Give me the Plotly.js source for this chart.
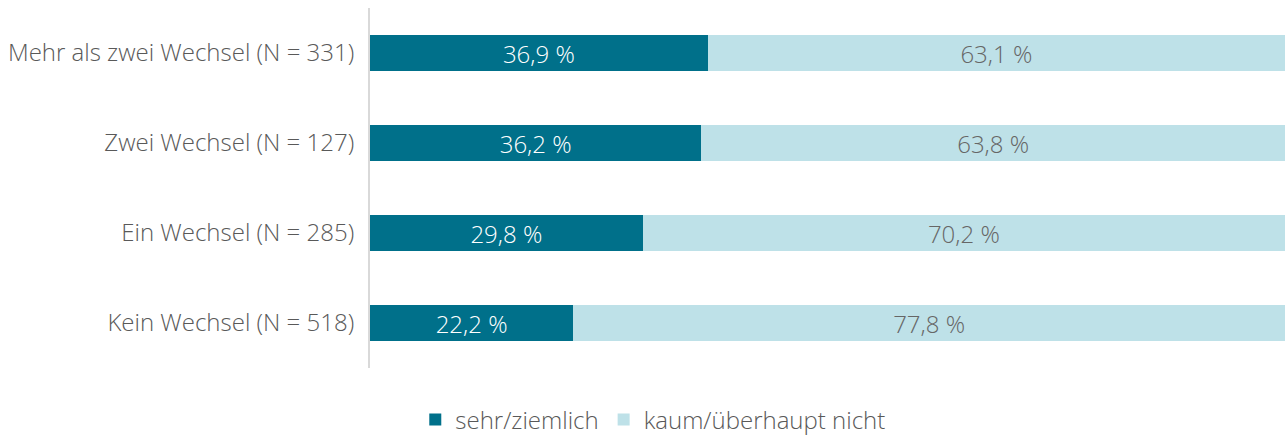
<!DOCTYPE html>
<html><head><meta charset="utf-8">
<script src="https://cdn.plot.ly/plotly-3.0.1.min.js"></script>
<style>html,body{margin:0;padding:0;background:#fff}#chart{width:1285px;height:436px}</style>
</head><body><div id="chart"></div>
<script>
const categories = ["Mehr als zwei Wechsel (N = 331)", "Zwei Wechsel (N = 127)", "Ein Wechsel (N = 285)", "Kein Wechsel (N = 518)"];
const sehrZiemlich = [36.9, 36.2, 29.8, 22.2];
const kaumNicht = [63.1, 63.8, 70.2, 77.8];
const seriesNames = ["sehr/ziemlich", "kaum/überhaupt nicht"];

const fmt = v => v.toFixed(1).replace('.', ',') + ' %';
const FONT = "Open Sans, sans-serif";
const FS = 24;
const W = 300;

const traces = [
  {type:'bar', orientation:'h', name:seriesNames[0], y:categories, x:sehrZiemlich,
   marker:{color:'#00708A'}, text:sehrZiemlich.map(fmt), textposition:'inside', insidetextanchor:'middle',
   constraintext:'none', textangle:0,
   textfont:{color:'#ffffff', size:FS, family:FONT, weight:W}, hoverinfo:'none'},
  {type:'bar', orientation:'h', name:seriesNames[1], y:categories, x:kaumNicht,
   marker:{color:'#BEE1E8'}, text:kaumNicht.map(fmt), textposition:'inside', insidetextanchor:'middle',
   constraintext:'none', textangle:0,
   textfont:{color:'#666666', size:FS, family:FONT, weight:W}, hoverinfo:'none'}
];

const layout = {
  width:1285, height:436, barmode:'stack', bargap:0.6,
  margin:{l:370, r:0, t:8, b:68},
  paper_bgcolor:'#fff', plot_bgcolor:'#fff',
  font:{family:FONT, color:'#595959', size:FS, weight:W},
  xaxis:{range:[0,100], visible:false, fixedrange:true},
  yaxis:{autorange:'reversed', showline:true, linecolor:'#d9d9d9', linewidth:2, ticks:'', ticklabelstandoff:9,
         tickfont:{size:FS, color:'#595959', family:FONT, weight:W}, showgrid:false, zeroline:false},
  showlegend:true,
  legend:{orientation:'h', traceorder:'normal', xref:'container', yref:'container', x:0.508, xanchor:'center', y:0.037, yanchor:'middle',
          font:{size:FS, color:'#595959', family:FONT, weight:W}, itemwidth:30, tracegroupgap:0},
  uniformtext:{mode:false}
};
Plotly.newPlot('chart', traces, layout, {displayModeBar:false, staticPlot:true});
</script></body></html>
